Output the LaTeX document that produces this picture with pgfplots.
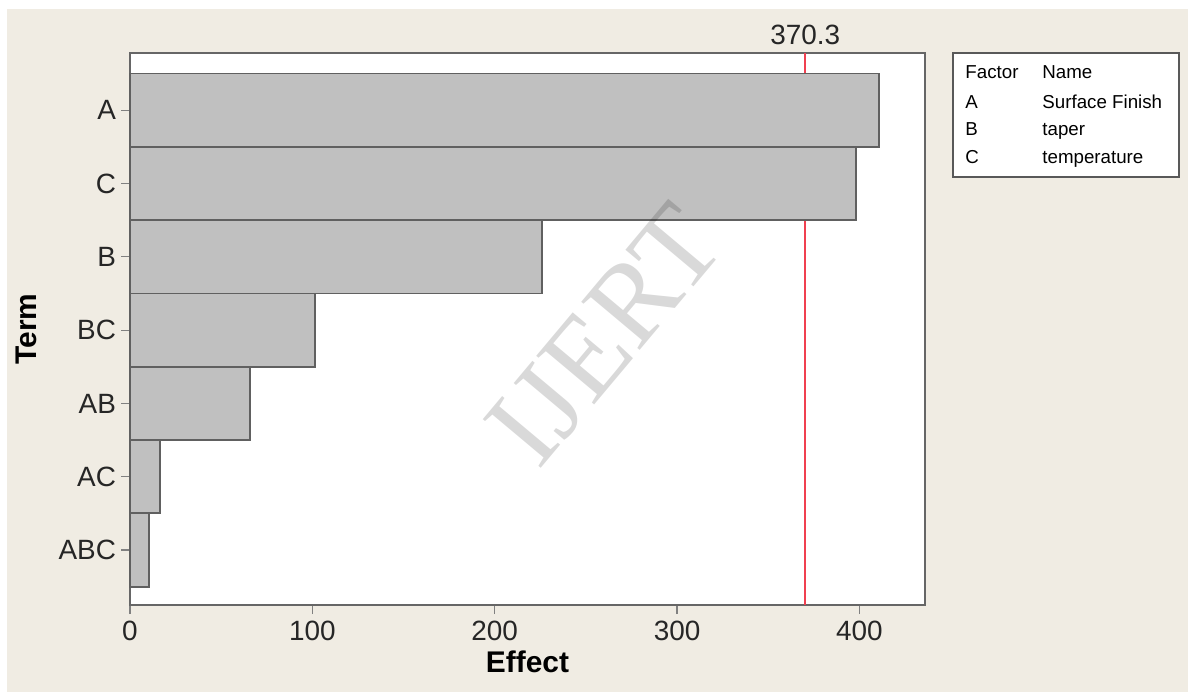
\documentclass[border=0pt]{standalone}
\usepackage{fontspec}
\setmainfont{Liberation Sans}
\newfontfamily\wmfont{Liberation Serif}
\usepackage{pgfplots}
\pgfplotsset{compat=1.18}
\definecolor{bg}{HTML}{F0ECE3}
\definecolor{barfill}{HTML}{C0C0C0}
\definecolor{baredge}{HTML}{606060}
\definecolor{refred}{HTML}{F04050}
\begin{document}
\begin{tikzpicture}[x=1bp,y=1bp]
\fill[white] (0,0) rectangle (594,346);
\fill[bg] (3.5,0) rectangle (594,341.5);
\begin{axis}[at={(65bp,43.5bp)}, anchor=south west, scale only axis,
 width=397.5bp, height=276bp,
 xmin=0, xmax=436, ymin=-0.75, ymax=6.78,
 axis background/.style={fill=white},
 xtick={0,100,200,300,400}, ytick={0,1,2,3,4,5,6},
 yticklabels={ABC,AC,AB,BC,B,C,A},
 tick align=outside, xtick pos=bottom, ytick pos=left, major tick length=4.5bp,
 tick style={gray, line width=0.6bp},
 axis line style={gray!80!black, line width=0.6bp},
 ticklabel style={font=\fontsize{14}{16}\selectfont, text=black!85},
 yticklabel style={xshift=1bp},
 /pgf/number format/assume math mode=true,
 xlabel={Effect}, ylabel={Term},
 xlabel style={yshift=2bp},
 ylabel style={yshift=4bp},
 label style={font=\fontsize{15}{17}\selectfont\bfseries},
 clip=false,
]
\addplot[draw=refred, line width=0.8bp, forget plot] coordinates {(370.3,-0.75) (370.3,4.5)};
\addplot[draw=refred, line width=0.8bp, forget plot] coordinates {(370.3,6.5) (370.3,6.78)};
\addplot[xbar, bar width=1, bar shift=0, fill=barfill, draw=baredge, line width=0.9bp]
 coordinates {(410.9,6) (398.2,5) (226,4) (101.3,3) (65.8,2) (16.5,1) (10.4,0)};
\node[anchor=base, font=\fontsize{14}{16}\selectfont, text=black!85, yshift=4bp] at (axis cs:370.3,6.78) {370.3};
\end{axis}
\node[rotate=50, text=black, opacity=0.15, font=\wmfont\fontsize{58}{60}\selectfont] at (302.5,178.5) {IJERT};
\draw[fill=white, draw=gray!70!black, line width=0.6bp] (476.5,257.5) rectangle (589.5,319.5);
\begin{scope}[every node/.style={anchor=base west, inner sep=0pt, font=\fontsize{9.4}{11}\selectfont}]
\node at (482.5,307) {Factor};
\node at (521,307) {Name};
\node at (482.5,292) {A};
\node at (521,292) {Surface Finish};
\node at (482.5,278.5) {B};
\node at (521,278.5) {taper};
\node at (482.5,264.5) {C};
\node at (521,264.5) {temperature};
\end{scope}
\end{tikzpicture}
\end{document}
